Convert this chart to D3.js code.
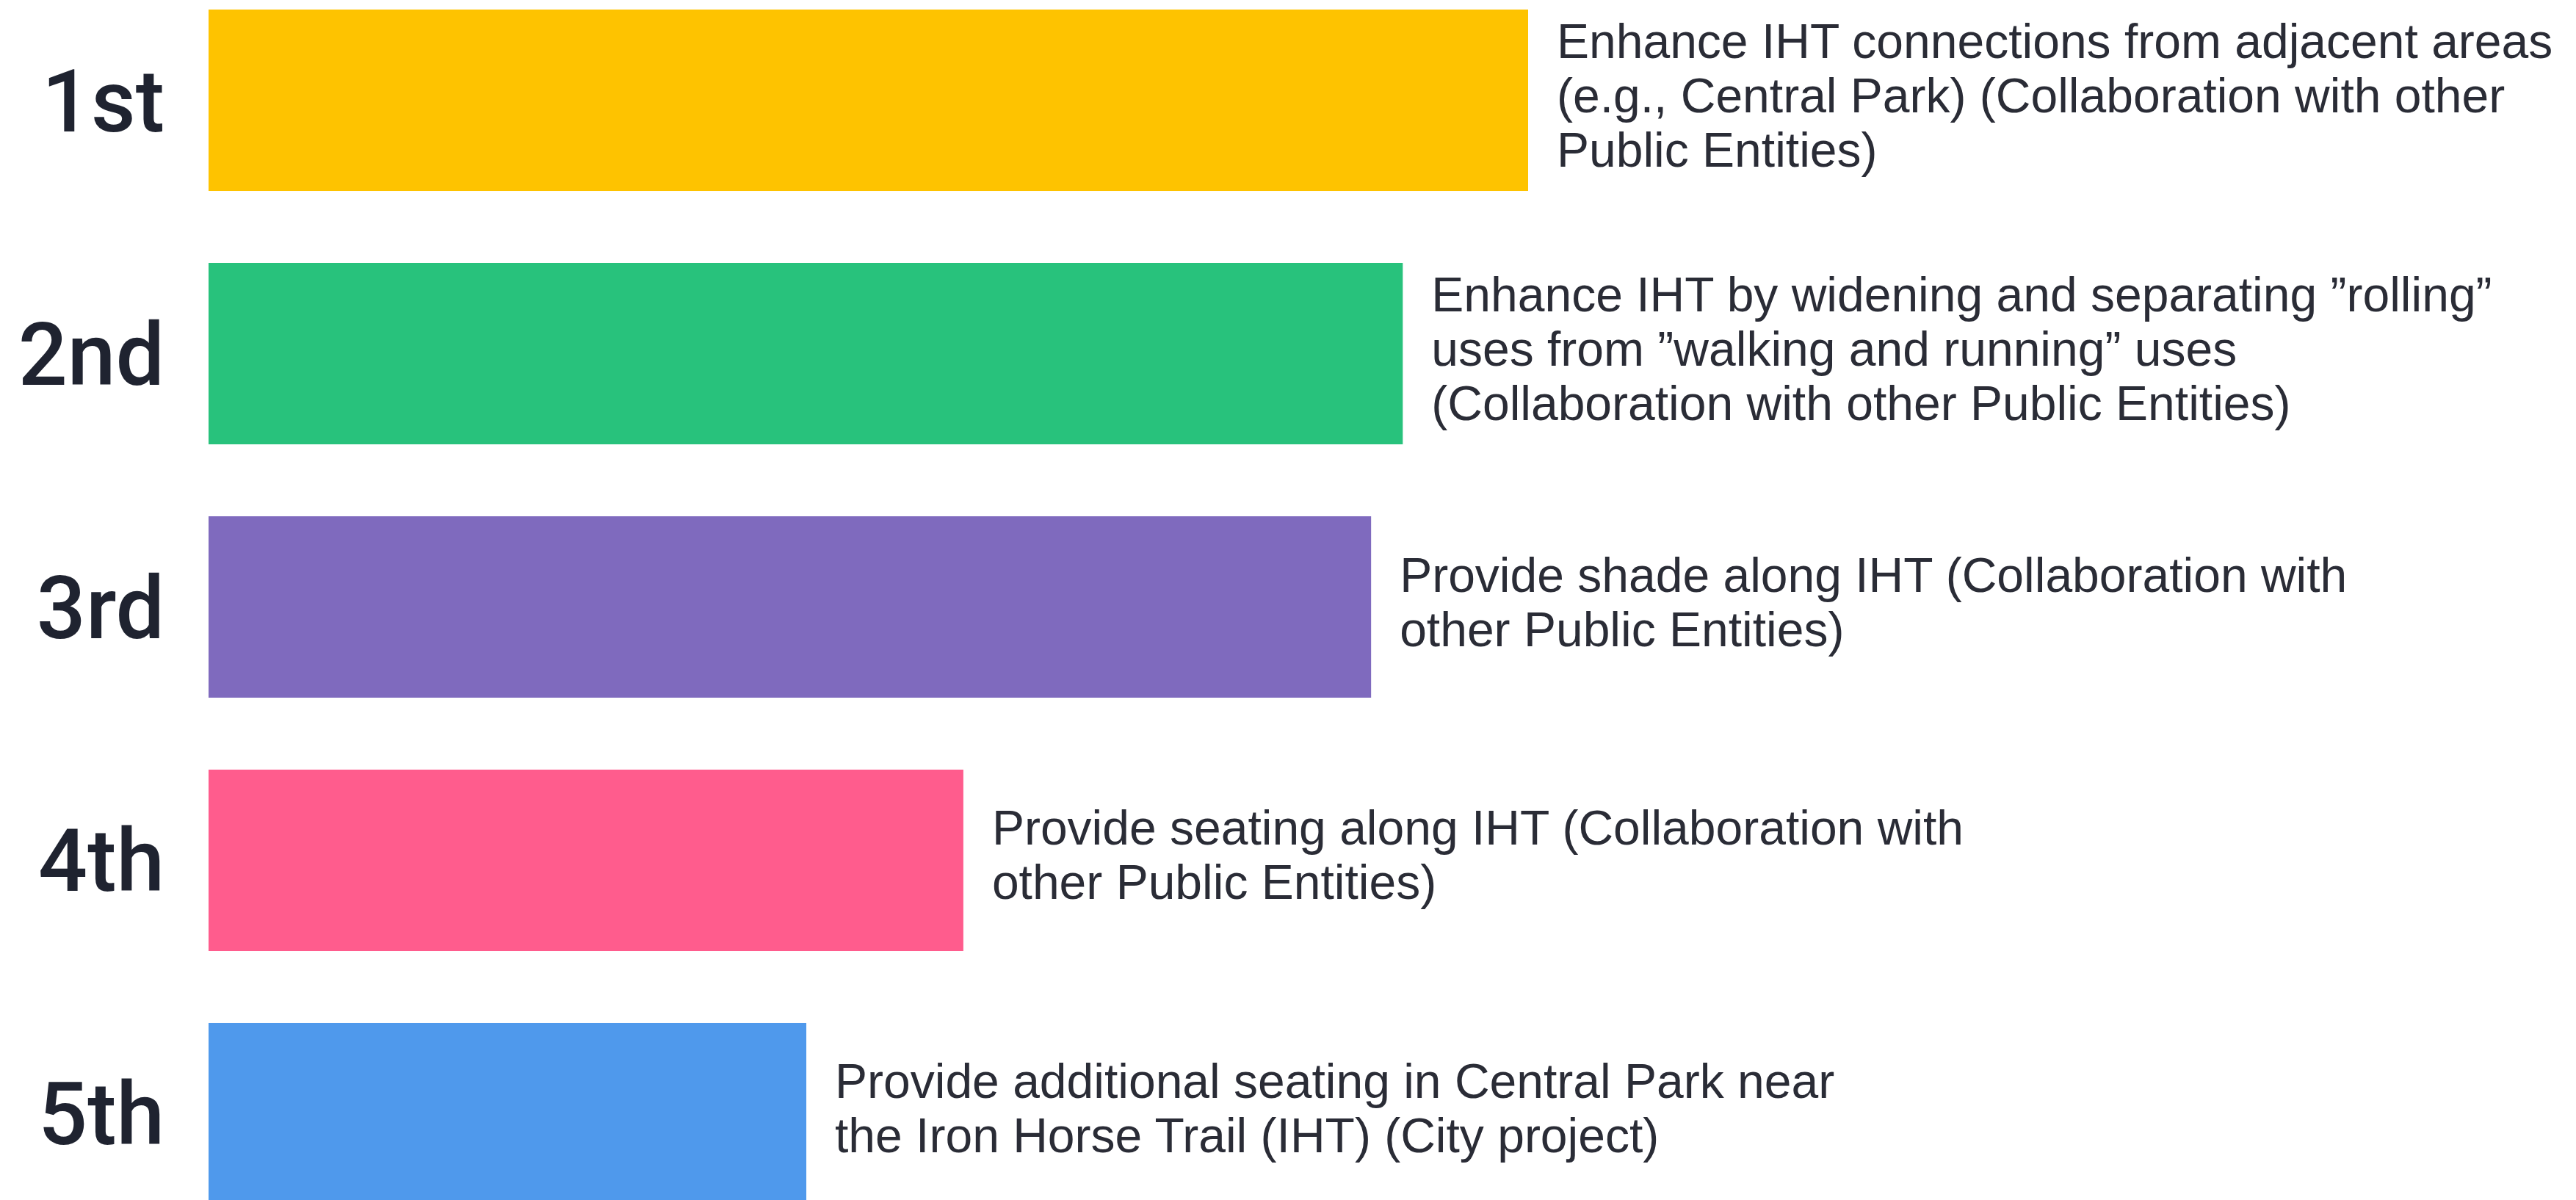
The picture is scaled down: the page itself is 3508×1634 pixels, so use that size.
<!DOCTYPE html>
<html>
<head>
<meta charset="utf-8">
<script src="https://cdn.jsdelivr.net/npm/d3@7"></script>
<style>
  html, body { margin: 0; padding: 0; background: #ffffff; overflow: hidden; }
</style>
</head>
<body>
<div id="chart"></div>
<script>
// Data
const ranks = ["1st", "2nd", "3rd", "4th", "5th"];
// relative score, top item = 100
const scores = [100, 90.5, 88.1, 57.2, 45.3];
const descriptions = [
  ["Enhance IHT connections from adjacent areas", "(e.g., Central Park) (Collaboration with other", "Public Entities)"],
  ["Enhance IHT by widening and separating \u201drolling\u201d", "uses from \u201dwalking and running\u201d uses", "(Collaboration with other Public Entities)"],
  ["Provide shade along IHT (Collaboration with", "other Public Entities)"],
  ["Provide seating along IHT (Collaboration with", "other Public Entities)"],
  ["Provide additional seating in Central Park near", "the Iron Horse Trail (IHT) (City project)"]
];
const colors = ["#fec300", "#28c27c", "#7f6abe", "#ff5c8d", "#4f99ec"];

const data = ranks.map((r, i) => ({ rank: r, score: scores[i], lines: descriptions[i], color: colors[i] }));

// Set up dimensions
const W = 3508, H = 1634;
const barLeft = 284;

const svg = d3.select("#chart")
    .append("svg")
    .attr("width", W)
    .attr("height", H);

// Scales
const x = d3.scaleLinear()
    .domain([0, 100])
    .range([0, 1797]);

const y = d3.scaleBand()
    .domain(ranks)
    .range([13, 1640])
    .paddingInner(0.284)
    .paddingOuter(0);

const rows = svg.selectAll(".row")
    .data(data)
    .enter()
    .append("g")
    .attr("class", "row");

// Bars
rows.append("rect")
    .attr("x", barLeft)
    .attr("y", d => y(d.rank))
    .attr("width", d => x(d.score))
    .attr("height", y.bandwidth())
    .attr("fill", d => d.color);

// Rank labels
rows.append("text")
    .attr("x", 224)
    .attr("y", d => y(d.rank) + y.bandwidth() / 2 + 42)
    .attr("text-anchor", "end")
    .style("font-family", "Roboto, 'Liberation Sans', Arial, sans-serif")
    .style("font-weight", 500)
    .style("font-size", "118px")
    .style("fill", "#1f2330")
    .text(d => d.rank);

// Descriptions next to bars
const lineH = 74;
rows.append("text")
    .attr("x", d => barLeft + x(d.score) + 39)
    .style("font-family", "'Liberation Sans', Arial, sans-serif")
    .style("font-size", "66px")
    .style("fill", "#2a2c36")
    .each(function (d) {
        const cy = y(d.rank) + y.bandwidth() / 2 + 16;
        const n = d.lines.length;
        d3.select(this).selectAll("tspan")
            .data(d.lines)
            .enter()
            .append("tspan")
            .attr("x", barLeft + x(d.score) + 39)
            .attr("y", (t, i) => cy + (i - (n - 1) / 2) * lineH)
            .text(t => t);
    });
</script>
</body>
</html>
